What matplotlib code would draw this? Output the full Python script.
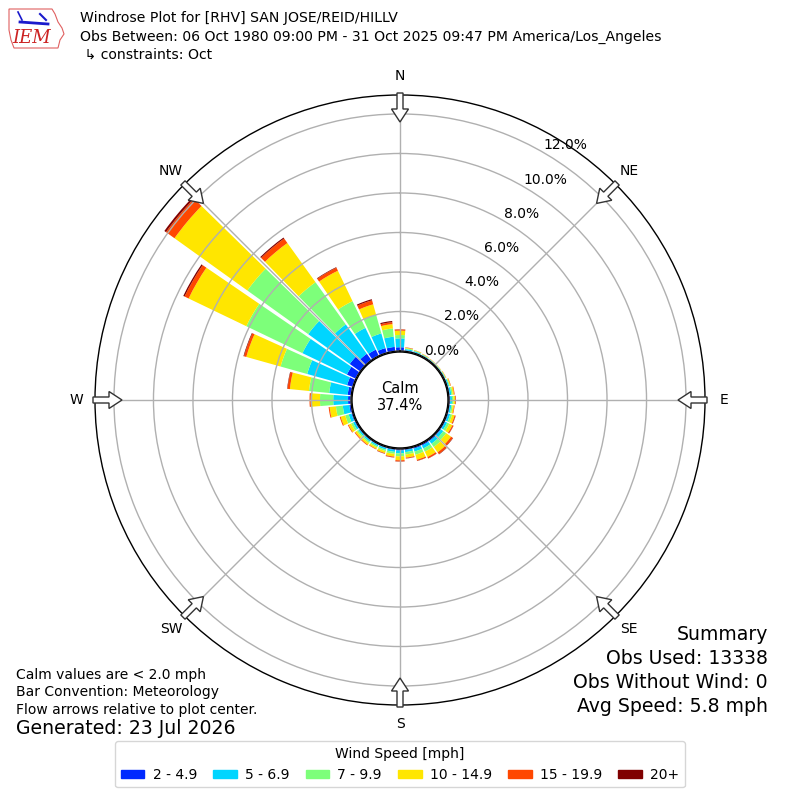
import numpy as np
import matplotlib
matplotlib.use('Agg')
import matplotlib.pyplot as plt
from matplotlib.patches import FancyArrow, Circle, Patch, Polygon

# direction bins (degrees, meteorological "from"), 10 degree bins
directions = np.arange(0, 360, 10)

# percent of obs for each speed bin, per direction (0, 10, ... 350)
spd_2_5 = [0.19, 0.05, 0.04, 0.03, 0.03, 0.03, 0.03, 0.04, 0.05, 0.06,
           0.05, 0.06, 0.06, 0.07, 0.08, 0.08, 0.08, 0.06, 0.08, 0.06,
           0.05, 0.05, 0.05, 0.05, 0.06, 0.07, 0.10, 0.15, 0.18, 0.30,
           0.50, 0.65, 0.40, 0.35, 0.25, 0.22]
spd_5_7 = [0.45, 0.06, 0.05, 0.04, 0.03, 0.03, 0.04, 0.06, 0.08, 0.09,
           0.08, 0.10, 0.11, 0.15, 0.17, 0.16, 0.15, 0.11, 0.14, 0.10,
           0.08, 0.07, 0.08, 0.08, 0.10, 0.15, 0.33, 0.75, 0.94, 2.10,
           2.50, 2.59, 1.83, 1.22, 0.77, 0.52]
spd_7_10 = [0.17, 0.04, 0.03, 0.02, 0.02, 0.02, 0.02, 0.04, 0.07, 0.08,
            0.07, 0.10, 0.12, 0.18, 0.20, 0.18, 0.17, 0.12, 0.15, 0.10,
            0.08, 0.07, 0.08, 0.08, 0.11, 0.18, 0.35, 0.67, 1.03, 1.40,
            3.15, 3.79, 2.63, 1.50, 0.98, 0.42]
spd_10_15 = [0.22, 0.03, 0.02, 0.02, 0.01, 0.015, 0.02, 0.04, 0.07, 0.08,
             0.07, 0.13, 0.17, 0.30, 0.33, 0.30, 0.26, 0.16, 0.20, 0.14,
             0.10, 0.08, 0.10, 0.10, 0.14, 0.24, 0.32, 0.47, 0.97, 1.80,
             3.24, 4.54, 2.44, 1.71, 0.55, 0.22]
spd_15_20 = [0.06, 0.015, 0.01, 0.01, 0.01, 0.005, 0.01, 0.02, 0.03, 0.03,
             0.03, 0.05, 0.06, 0.11, 0.11, 0.08, 0.06, 0.04, 0.06, 0.04,
             0.03, 0.03, 0.04, 0.04, 0.04, 0.05, 0.05, 0.06, 0.12, 0.12,
             0.23, 0.53, 0.28, 0.17, 0.21, 0.10]
spd_20p = [0.01, 0.005, 0.0, 0.0, 0.0, 0.0, 0.0, 0.0, 0.0, 0.01,
           0.0, 0.01, 0.01, 0.02, 0.02, 0.01, 0.01, 0.01, 0.01, 0.01,
           0.01, 0.0, 0.0, 0.0, 0.0, 0.0, 0.0, 0.0, 0.02, 0.03,
           0.07, 0.10, 0.06, 0.03, 0.06, 0.06]

speed_labels = ['2 - 4.9', '5 - 6.9', '7 - 9.9', '10 - 14.9', '15 - 19.9', '20+']
calm_pct = 37.4
rticks = [0, 2, 4, 6, 8, 10, 12]
compass = ['N', 'NE', 'E', 'SE', 'S', 'SW', 'W', 'NW']

series = [spd_2_5, spd_5_7, spd_7_10, spd_10_15, spd_15_20, spd_20p]
colors = plt.cm.jet(np.linspace(1 / 6., 1, 6))

fig = plt.figure(figsize=(8, 8), dpi=100)
ax = fig.add_axes([95 / 800., 95 / 800., 610 / 800., 610 / 800.], projection='polar')
ax.set_theta_zero_location('N')
ax.set_theta_direction(-1)

theta = np.deg2rad(directions)
bottom = np.zeros(len(directions))
for vals, c in zip(series, colors):
    vals = np.array(vals)
    ax.bar(theta, vals, width=np.deg2rad(8.7), bottom=bottom, color=c,
           edgecolor='none', align='center')
    bottom += vals

ax.set_rlim(0, 12.96)
ax.set_rorigin(-2.48)
ax.set_yticks(rticks)
ax.set_yticklabels(['%.1f%%' % t for t in rticks], fontsize=10)
ax.set_rlabel_position(30)
ax.set_xticks(np.deg2rad(np.arange(0, 360, 45)))
ax.set_xticklabels([])
ax.grid(True, color='#b0b0b0', lw=1)
ax.spines['polar'].set_color('k')
ax.spines['polar'].set_linewidth(1)

# overlay in pixel coords for decorations
ov = fig.add_axes([0, 0, 1, 1])
ov.set_xlim(0, 800)
ov.set_ylim(800, 0)
ov.axis('off')
ov.patch.set_alpha(0)

ov.add_patch(Circle((400, 400), 48, fc='white', ec='k', lw=1))
ov.text(400, 397, 'Calm\n%.1f%%' % calm_pct, ha='center', va='center', fontsize=10.5)

for i, lab in enumerate(compass):
    ang = np.deg2rad(i * 45)
    sx, sy = np.sin(ang), -np.cos(ang)
    ov.text(400 + 324 * sx, 400 + 324 * sy, lab, ha='center', va='center', fontsize=10)
    x0, y0 = 400 + 307 * sx, 400 + 307 * sy
    ov.add_patch(FancyArrow(x0, y0, -29 * sx, -29 * sy, width=6, head_width=17,
                            head_length=13, length_includes_head=True,
                            fc='white', ec='#333333', lw=1))

# rough IEM logo
iowa = [(9, 9), (52, 9), (55, 14), (58, 22), (62, 28), (64, 34), (60, 40),
        (58, 48), (14, 48), (11, 40), (9, 30)]
ov.add_patch(Polygon(iowa, closed=True, fc='none', ec='#e06060', lw=0.8))
ov.plot([20, 48], [22, 24], color='#1a1acc', lw=2)
ov.plot([40, 46], [14, 20], color='#1a1acc', lw=1.5)
ov.plot([18, 22], [12, 20], color='#1a1acc', lw=1.2)
ov.text(32, 38, 'IEM', color='#cc2222', fontsize=13, style='italic',
        family='DejaVu Serif', ha='center', va='center')

# header
ov.text(80, 18, 'Windrose Plot for [RHV] SAN JOSE/REID/HILLV', fontsize=10.1, va='center')
ov.text(80, 37, 'Obs Between: 06 Oct 1980 09:00 PM - 31 Oct 2025 09:47 PM America/Los_Angeles',
        fontsize=10.1, va='center')
ov.text(80, 55, ' \u21b3 constraints: Oct', fontsize=10.1, va='center')

# footer notes
ov.text(16, 675, 'Calm values are < 2.0 mph', fontsize=10, va='center')
ov.text(16, 692, 'Bar Convention: Meteorology', fontsize=10, va='center')
ov.text(16, 710, 'Flow arrows relative to plot center.', fontsize=10, va='center')
ov.text(16, 729, 'Generated: 23 Jul 2026', fontsize=13.6, va='center')

for y, s in zip([635, 659, 682, 706],
                ['Summary', 'Obs Used: 13338', 'Obs Without Wind: 0', 'Avg Speed: 5.8 mph']):
    ov.text(768, y, s, fontsize=13.6, ha='right', va='center')

handles = [Patch(color=c, label=l) for c, l in zip(colors, speed_labels)]
fig.legend(handles=handles, loc='lower center', bbox_to_anchor=(0.5, 0.007), ncol=6,
           title='Wind Speed [mph]', fontsize=10, title_fontsize=10,
           handleheight=0.6, handlelength=1.7, handletextpad=0.6, columnspacing=1.15)

fig.savefig('out.png', dpi=100)
